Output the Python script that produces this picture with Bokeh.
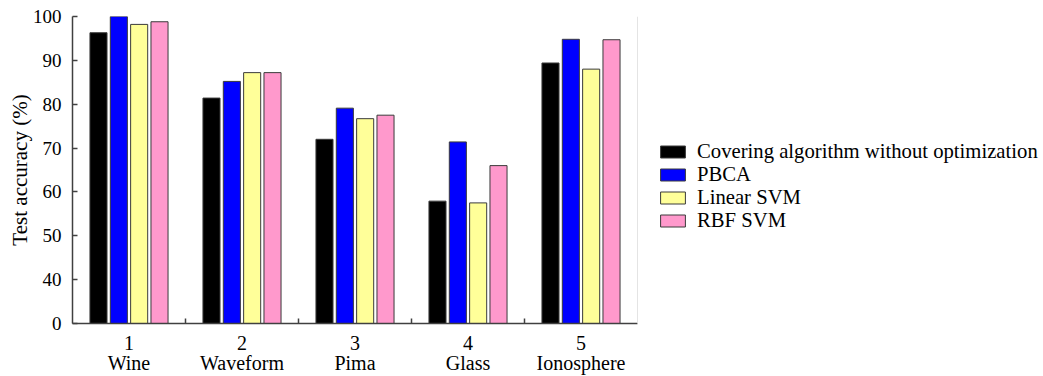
from bokeh.plotting import figure
from bokeh.models import Range1d, FixedTicker, Legend, LegendItem, Span, ColumnDataSource
from bokeh.transform import dodge
from bokeh.embed import file_html
from bokeh.resources import INLINE

# ---- data ----
group_ids = [1, 2, 3, 4, 5]
datasets = ["Wine", "Waveform", "Pima", "Glass", "Ionosphere"]
covering = [96.3, 81.4, 72.0, 57.9, 89.4]
pbca = [100.0, 85.2, 79.1, 71.4, 94.8]
linear_svm = [98.2, 87.2, 76.7, 57.5, 88.0]
rbf_svm = [98.8, 87.2, 77.5, 66.0, 94.7]
series_names = ["Covering algorithm without optimization", "PBCA", "Linear SVM", "RBF SVM"]
series_colors = ["#000000", "#0000ff", "#ffff99", "#ff99cc"]
y_ticks = [30, 40, 50, 60, 70, 80, 90, 100]
y_tick_labels = ["0", "40", "50", "60", "70", "80", "90", "100"]

FONT = "Liberation Serif"
AXC = "#404040"

W, H = 1043, 376
LEFT, TOP, BOTTOM = 72, 16, 53
GROUP_PX = 113.0  # pixel width of one category slot
x_end = 0.5 + (W - LEFT) / GROUP_PX

source = ColumnDataSource(dict(x=group_ids, s0=covering, s1=pbca, s2=linear_svm, s3=rbf_svm))

p = figure(width=W, height=H, output_backend="svg", toolbar_location=None,
           x_range=Range1d(0.5, x_end), y_range=Range1d(30, 100),
           min_border_left=LEFT, min_border_top=TOP, min_border_right=0, min_border_bottom=BOTTOM)
p.outline_line_color = None
p.grid.grid_line_color = None
p.background_fill_color = "white"

offsets = [-0.27, -0.09, 0.09, 0.27]
items = []
for i, (name, col, off) in enumerate(zip(series_names, series_colors, offsets)):
    r = p.vbar(x=dodge("x", off, range=p.x_range), top="s%d" % i, bottom=30, width=0.151,
               source=source, fill_color=col, line_color="#3a3a3a", line_width=1)
    items.append(LegendItem(label=name, renderers=[r]))

p.add_layout(Span(location=5.5, dimension="height", line_color="#e4e4e4", line_width=1))

# y axis
ya = p.yaxis[0]
ya.ticker = FixedTicker(ticks=y_ticks)
ya.major_label_overrides = {t: l for t, l in zip(y_ticks, y_tick_labels)}
ya.minor_tick_line_color = None
ya.major_tick_in = 5
ya.major_tick_out = 0
ya.axis_line_color = AXC
ya.axis_line_width = 1.5
ya.major_tick_line_color = AXC
ya.major_tick_line_width = 1.5
ya.major_label_text_font = FONT
ya.major_label_text_font_size = "19px"
ya.major_label_text_color = "black"
ya.major_label_standoff = 11
ya.axis_label = "Test accuracy (%)"
ya.axis_label_text_font = FONT
ya.axis_label_text_font_size = "21px"
ya.axis_label_text_font_style = "normal"
ya.axis_label_text_color = "black"
ya.axis_label_standoff = -2

# x axis
xa = p.xaxis[0]
xa.bounds = (0.5, 5.5)
xa.ticker = FixedTicker(ticks=group_ids, minor_ticks=[1.5, 2.5, 3.5, 4.5])
xa.major_label_overrides = {g: "%d\n%s" % (g, d) for g, d in zip(group_ids, datasets)}
xa.major_tick_line_color = None
xa.minor_tick_in = 5
xa.minor_tick_out = 0
xa.minor_tick_line_color = AXC
xa.minor_tick_line_width = 1.5
xa.axis_line_color = AXC
xa.axis_line_width = 1.5
xa.major_label_text_font = FONT
xa.major_label_text_font_size = "20px"
xa.major_label_text_color = "black"
xa.major_label_text_line_height = 0.91
xa.major_label_standoff = 2

legend = Legend(items=items, location=(585, 91), padding=0, margin=0,
                border_line_color=None, background_fill_alpha=0,
                label_text_font=FONT, label_text_font_size="20.7px", label_text_color="black",
                glyph_width=31, glyph_height=15, label_height=20, spacing=0, label_standoff=9)
p.add_layout(legend, "center")

open("out.html", "w").write(file_html(p, INLINE))
